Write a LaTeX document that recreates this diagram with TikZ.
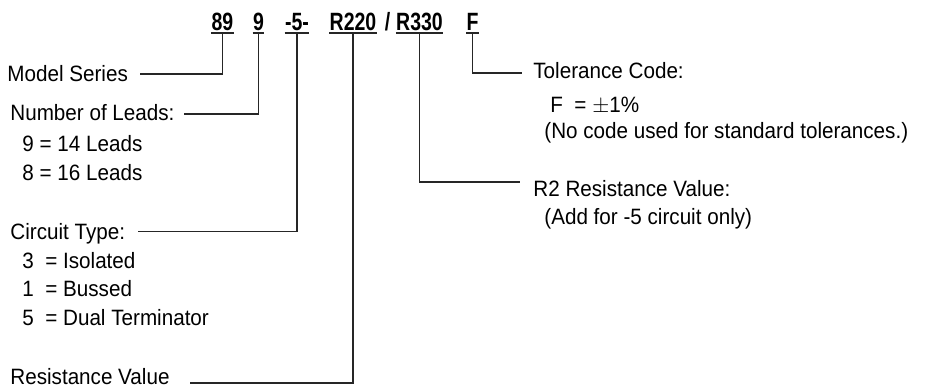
\documentclass[tikz,border=0pt]{standalone}
\usepackage{fontspec}
\setmainfont{Liberation Sans}[FakeStretch=0.93]
\newfontfamily\codefont{Liberation Sans}[FakeStretch=0.78]
\begin{document}
\begin{tikzpicture}[x=0.5pt,y=-0.5pt,
  lbl/.style={anchor=base west, inner sep=0pt, text height=8pt, text depth=0pt, font=\fontsize{11.1}{13}\selectfont},
  code/.style={anchor=base, inner sep=0pt, text height=9pt, text depth=0pt, font=\codefont\bfseries\fontsize{12.5}{14}\selectfont},
  ln/.style={line width=0.6pt, draw=black!85}]
\useasboundingbox (0,0) rectangle (928,386);
\fill[white] (0,0) rectangle (928,386);
% code row
\node[code] (c89) at (222.5,30) {89};
\node[code] (c9) at (258.5,30) {9};
\node[code] (c5) at (297,30) {-5-};
\node[code] (cr1) at (353,30) {R220};
\node[code] (csl) at (387.5,30) {/};
\node[code] (cr2) at (419.5,30) {R330};
\node[code] (cf) at (472.5,30) {F};
% underlines
\foreach \n in {c89,c9,c5,cr1,cr2,cf}{
  \draw[ln] ([yshift=-1.5pt]\n.base west) -- ([yshift=-1.5pt]\n.base east);
  \coordinate (u\n) at ([yshift=-1.5pt]\n.base);
}
% labels
\node[lbl] (ms) at (7,81) {Model Series};
\node[lbl] (nl) at (10,120) {Number of Leads:};
\node[lbl] (nl1) at (22,151) {9 = 14 Leads};
\node[lbl] (nl2) at (22,180) {8 = 16 Leads};
\node[lbl] (ct) at (10,239) {Circuit Type:};
\node[lbl] (ct1) at (22,268) {3 \ = Isolated};
\node[lbl] (ct2) at (22,296.5) {1 \ = Bussed};
\node[lbl] (ct3) at (22,325) {5 \ = Dual Terminator};
\node[lbl] (rv) at (10,384) {Resistance Value};
\node[lbl] (tc) at (533,78) {Tolerance Code:};
\node[lbl] (tc1) at (550,112) {F \ = $\pm$1\%};
\node[lbl] (tc2) at (544,138) {(No code used for standard tolerances.)};
\node[lbl] (r2) at (533,196) {R2 Resistance Value:};
\node[lbl] (r21) at (544,224) {(Add for -5 circuit only)};
% connectors
\draw[ln] (uc89) |- ([xshift=6pt,yshift=-0.5pt]ms.east);
\draw[ln] (uc9) |- ([xshift=4.5pt,yshift=-1pt]nl.east);
\draw[ln] (uc5) |- ([xshift=6pt,yshift=-0.3pt]ct.east);
\draw[ln] (ucr1) |- ([xshift=10pt,yshift=-3.5pt]rv.east);
\draw[ln] (ucr2) |- ([xshift=-6.5pt,yshift=3pt]r2.west);
\draw[ln] (ucf) |- ([xshift=-5.5pt,yshift=-1.5pt]tc.west);
\end{tikzpicture}
\end{document}
